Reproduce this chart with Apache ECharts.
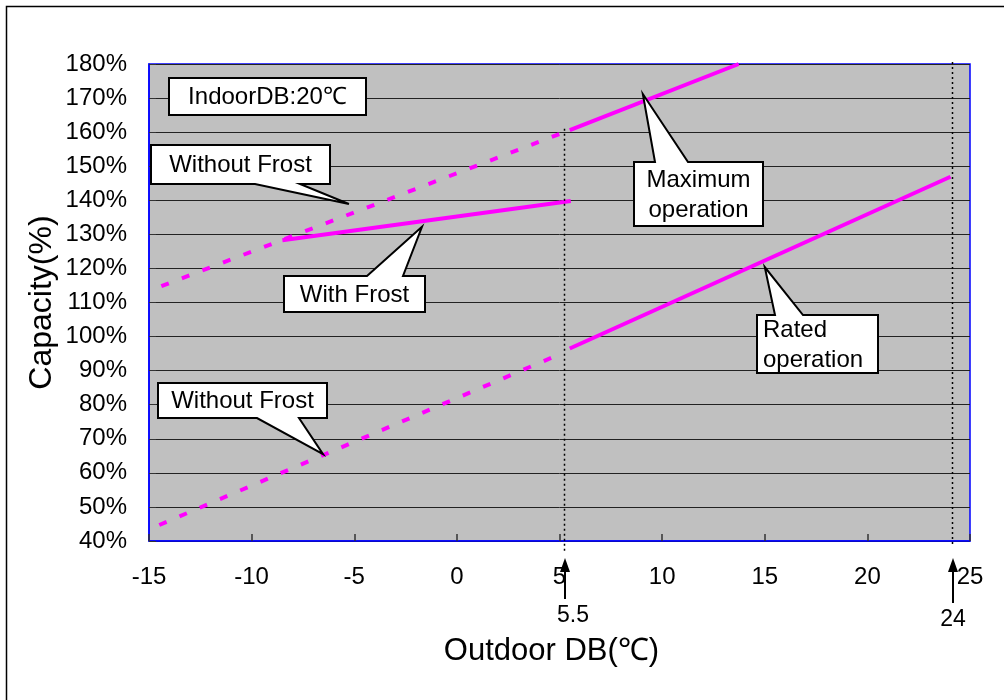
<!DOCTYPE html>
<html><head><meta charset="utf-8">
<script src="https://cdn.jsdelivr.net/npm/echarts@6.0.0/dist/echarts.min.js"></script>
<style>html,body{margin:0;padding:0;background:#fff}#c{width:1004px;height:700px}</style>
</head><body><div id="c"></div><script>
// ---- data ----
const xMin = -15, xMax = 25, xStep = 5;
const yMin = 40, yMax = 180, yStep = 10;
const maxDashed   = [[-14.4, 114.8], [5.2, 159.9]];
const maxSolid    = [[5.5, 160.6], [13.73, 180]];
const withFrost   = [[-8.5, 128.3], [5.55, 139.8]];
const ratedDashed = [[-14.5, 44.7], [5.2, 95.3]];
const ratedSolid  = [[5.5, 96.5], [24.05, 146.9]];
const refLines = [{x: 5.2, label: '5.5', yTop: 161}, {x: 24.1, label: '24', yTop: 180}];
// callouts: text, tip in data coords
const callouts = [
  {text: 'IndoorDB:20℃', box: [169, 78, 366, 115], side: null},
  {text: 'Without Frost', box: [151, 145, 330, 184], side: 'bottom', base: [255, 300], tip: [-5.26, 138.9]},
  {text: 'With Frost', box: [284, 276, 425, 312], side: 'top', base: [367, 403], tip: [-1.70, 132.2]},
  {text: 'Maximum\noperation', box: [634, 162, 763, 226], side: 'top', base: [655, 688], tip: [9.06, 171.2]},
  {text: 'Rated\noperation', box: [757, 315, 878, 373], side: 'top', base: [775, 803], tip: [15.0, 120.4], align: 'left'},
  {text: 'Without Frost', box: [158, 383, 327, 418], side: 'bottom', base: [257, 299], tip: [-6.52, 65.5]}
];

const FONT = "'Liberation Sans', Arial, sans-serif";
const MAG = '#ff00ff';
const chart = echarts.init(document.getElementById('c'), null, {renderer: 'canvas'});

function lineSeries(data, dashed) {
  return {
    type: 'line', data: data, showSymbol: false, symbol: 'none', silent: true,
    lineStyle: {color: MAG, width: 4, type: dashed ? [8, 14] : 'solid', cap: 'butt'},
    z: 5
  };
}

chart.setOption({
  animation: false,
  backgroundColor: '#fff',
  grid: {left: 149, top: 64, width: 821, height: 477, show: true, backgroundColor: '#c0c0c0',
         borderColor: '#0000ff', borderWidth: 1.5, containLabel: false, outerBoundsMode: 'none'},
  xAxis: {
    type: 'value', min: xMin, max: xMax, interval: xStep,
    name: 'Outdoor DB(℃)', nameLocation: 'middle', nameGap: 95,
    nameTextStyle: {fontSize: 31, fontFamily: FONT, color: '#000', padding: [0, 16, 0, 0]},
    axisLine: {show: true, onZero: false, lineStyle: {color: '#0000ff', width: 1.5}},
    axisTick: {show: true, inside: true, length: 7, lineStyle: {color: '#333', width: 1.5}},
    axisLabel: {fontSize: 24, fontFamily: FONT, color: '#000', margin: 24},
    splitLine: {show: false}
  },
  yAxis: {
    type: 'value', min: yMin, max: yMax, interval: yStep,
    name: 'Capacity(%)', nameLocation: 'middle', nameGap: 91, nameMoveOverlap: false,
    nameTextStyle: {fontSize: 32, fontFamily: FONT, color: '#000'},
    axisLine: {show: true, onZero: false, lineStyle: {color: '#0000ff', width: 1.5}},
    axisTick: {show: true, inside: true, length: 7, lineStyle: {color: '#333'}},
    axisLabel: {fontSize: 24, fontFamily: FONT, color: '#000', margin: 22, formatter: '{value}%'},
    splitLine: {show: true, lineStyle: {color: '#222', width: 1}}
  },
  series: [
    lineSeries(maxDashed, true), lineSeries(maxSolid, false), lineSeries(withFrost, false),
    lineSeries(ratedDashed, true), lineSeries(ratedSolid, false)
  ]
});

function px(p) { return chart.convertToPixel({gridIndex: 0}, p); }
const g = [];
// outer frame
g.push({type: 'rect', shape: {x: 6.5, y: 6.5, width: 1200, height: 1200}, style: {fill: 'none', stroke: '#000', lineWidth: 1.5}, z: 0, silent: true});
// reference dotted lines and arrows
const bottomPx = px([xMin, yMin])[1];
const topPx = px([xMin, yMax])[1];
refLines.forEach((r, i) => {
  const p = px([r.x, r.yTop]);
  const xx = Math.round(p[0]) + 0.5;
  const y0 = i === 0 ? p[1] : topPx - 2;
  const y1 = bottomPx + (i === 0 ? 12 : 5);
  g.push({type: 'line', shape: {x1: xx, y1: y0, x2: xx, y2: y1}, style: {stroke: '#000', lineWidth: 1.5, lineDash: [2, 3]}, z: 20, silent: true});
  const ax = Math.round(p[0]) + 1;
  const tipY = bottomPx + 17, baseY = bottomPx + (i === 0 ? 58 : 62);
  g.push({type: 'line', shape: {x1: ax, y1: tipY + 10, x2: ax, y2: baseY}, style: {stroke: '#000', lineWidth: 2}, z: 20, silent: true});
  g.push({type: 'polygon', shape: {points: [[ax, tipY], [ax - 5, tipY + 14], [ax + 5, tipY + 14]]}, style: {fill: '#000'}, z: 20, silent: true});
  g.push({type: 'text', style: {text: r.label, x: ax + (i === 0 ? 8 : 0), y: baseY + 17, align: 'center', verticalAlign: 'middle', fontSize: 23, fontFamily: FONT, fill: '#000'}, z: 20, silent: true});
});
// callouts
callouts.forEach(c => {
  const [x0, y0, x1, y1] = c.box;
  let pts;
  if (c.side === 'bottom') {
    const t = px(c.tip);
    pts = [[x0, y0], [x1, y0], [x1, y1], [c.base[1], y1], t, [c.base[0], y1], [x0, y1]];
  } else if (c.side === 'top') {
    const t = px(c.tip);
    pts = [[x0, y0], [c.base[0], y0], t, [c.base[1], y0], [x1, y0], [x1, y1], [x0, y1]];
  } else {
    pts = [[x0, y0], [x1, y0], [x1, y1], [x0, y1]];
  }
  g.push({type: 'polygon', shape: {points: pts}, style: {fill: '#fff', stroke: '#000', lineWidth: 2}, z: 30, silent: true});
  const left = c.align === 'left';
  g.push({type: 'text', style: {text: c.text, x: left ? x0 + 6 : (x0 + x1) / 2, y: (y0 + y1) / 2 + 1,
    align: left ? 'left' : 'center', verticalAlign: 'middle', fontSize: 24, lineHeight: 30, fontFamily: FONT, fill: '#000'}, z: 31, silent: true});
});
chart.setOption({graphic: {elements: g}});
</script></body></html>
